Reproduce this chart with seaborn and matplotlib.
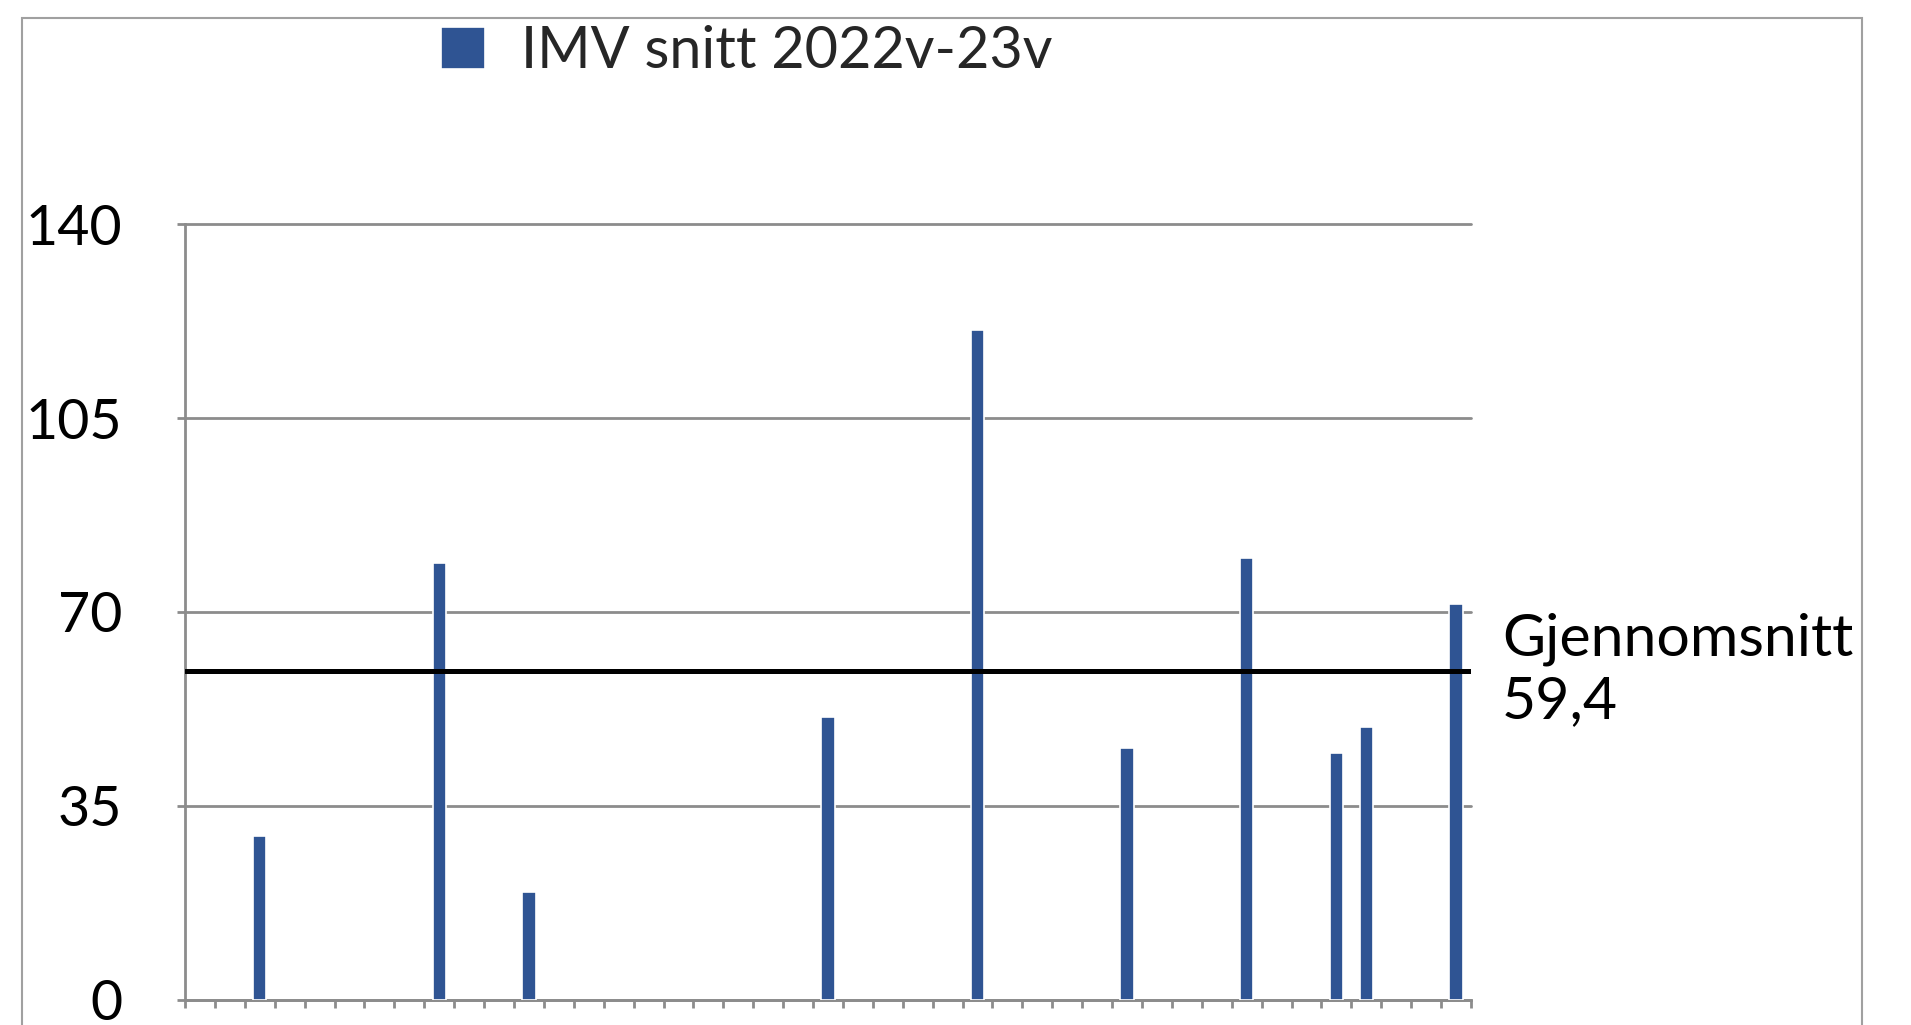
import numpy as np
import pandas as pd
import matplotlib
matplotlib.use("Agg")
import matplotlib.pyplot as plt
import seaborn as sns
from matplotlib.patches import Rectangle
from matplotlib.transforms import blended_transform_factory

# ---- data ----
n_categories = 43
categories = [str(i) for i in range(1, n_categories + 1)]
bar_positions = [2, 8, 11, 21, 26, 31, 35, 38, 39, 42]
bar_values = [29.6, 78.8, 19.4, 51.1, 121.0, 45.4, 79.8, 44.6, 49.2, 71.4]
y_ticks = [0, 35, 70, 105, 140]
average_value = 59.4
average_label = "Gjennomsnitt\n59,4"
series_name = "IMV snitt 2022v-23v"

values = [np.nan] * n_categories
for p, v in zip(bar_positions, bar_values):
    values[p] = v
df = pd.DataFrame({"kategori": categories, "verdi": values})

# ---- style ----
bar_color = "#2F5493"
grid_color = "#8C8C8C"
fs = 40

sns.set_theme(style="white")
plt.rcParams['font.family'] = ['Lato', 'DejaVu Sans']

W, H = 1911, 1025
fig = plt.figure(figsize=(W / 100, H / 100), dpi=100)
ax = fig.add_axes([185 / W, 1 - 999.5 / H, (1471 - 185) / W, (999.5 - 224.3) / H])

sns.barplot(data=df, x="kategori", y="verdi", order=categories, color=bar_color,
            width=0.44, saturation=1, edgecolor="white", linewidth=1.2,
            label=series_name, ax=ax, zorder=3)

ax.set_xlim(-0.5, n_categories - 0.5)
ax.set_ylim(0, 140)
ax.set_yticks(y_ticks)
ax.set_yticklabels([str(t) for t in y_ticks])
ax.set_xticks(np.arange(-0.5, n_categories, 1))
ax.set_xticklabels([])
ax.set_xlabel("")
ax.set_ylabel("")

ax.set_axisbelow(True)
ax.yaxis.grid(True, color=grid_color, linewidth=2)
for gl in ax.get_ygridlines():
    gl.set_clip_on(False)

for s in ["top", "right"]:
    ax.spines[s].set_visible(False)
for s in ["left", "bottom"]:
    ax.spines[s].set_color(grid_color)
    ax.spines[s].set_linewidth(2)

ax.tick_params(axis="y", direction="out", length=6, width=2, color=grid_color,
               labelsize=fs, pad=39, left=True, labelcolor="black")
ax.tick_params(axis="x", direction="out", length=6, width=2, color=grid_color,
               bottom=True)

ax.axhline(average_value, color="black", linewidth=3.6, zorder=4)

trans = blended_transform_factory(ax.transAxes, ax.transData)
ax.text(1.024, average_value, average_label, transform=trans, va="center", ha="left",
        fontsize=42.5, linespacing=1.22, clip_on=False, color="black")

ax.legend(loc="center left", bbox_to_anchor=(441 / W, 1 - 52 / H),
          bbox_transform=fig.transFigure, frameon=False, fontsize=41.5,
          handlelength=0.76, handleheight=0.74, handletextpad=0.62,
          borderpad=0, borderaxespad=0)

fig.patches.append(Rectangle((22 / W, -0.05), (1862 - 22) / W, 1.05 - 18 / H,
                             transform=fig.transFigure, fill=False,
                             edgecolor="#A0A0A0", linewidth=1.5))

fig.savefig("out.png", dpi=100)
